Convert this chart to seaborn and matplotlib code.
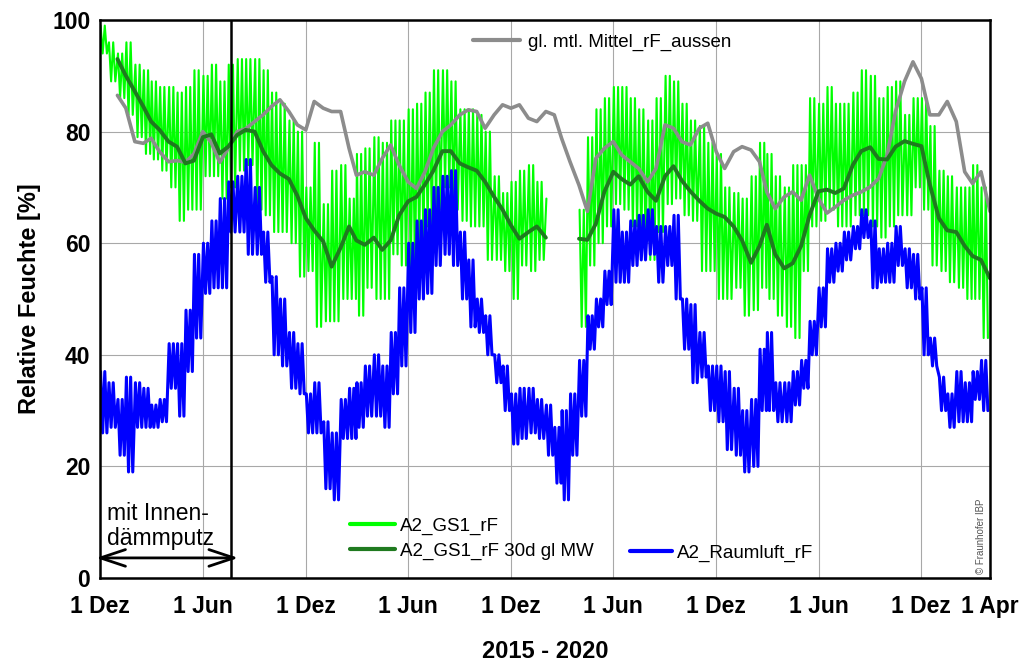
import numpy as np
import pandas as pd
import matplotlib
matplotlib.use("Agg")
import matplotlib.pyplot as plt
import seaborn as sns
from matplotlib.lines import Line2D

nan = np.nan

# ---- time grid: 1st and 16th of each month, Dec 2015 .. Apr 2020 ----
month_starts = pd.date_range("2015-12-01", "2020-03-01", freq="MS")
half_month_dates = []
for m in month_starts:
    half_month_dates += [m, m + pd.Timedelta(days=15)]
half_month_dates.append(pd.Timestamp("2020-04-01"))

# ---- smooth series, one value per half-month point ----
gray_aussen = [nan, nan, 86.5, 84.2, 78.2, 77.9, 78.8, 76.4, 74.6, 74.8,
               74.5, 76, 80, 78, 74.5, 77, 80, 80.5, 81.8, 83,
               84.5, 85.7, 83.6, 81.2, 80.3, 85.4, 84.2, 83.6, 83.6, 77,
               72.2, 72.8, 72.2, 75.2, 77.6, 74, 71, 69.8, 72.8, 77,
               80, 81.2, 83, 83.9, 83.6, 80.6, 83, 84.8, 84.2, 84.8,
               82.4, 81.8, 83.6, 83, 78.8, 74.6, 70.4, 65.7, 75.2, 77,
               78.2, 75.8, 74.6, 73.4, 71, 73.4, 81.2, 80.6, 78.2, 77.6,
               80.6, 81.5, 76.4, 73.4, 76.4, 77.3, 76.7, 74.6, 69.2, 66.2,
               68.3, 69.2, 67.7, 72.2, 68, 65.4, 66.5, 67.7, 68.6, 69.2,
               70.1, 71.6, 75.8, 83.6, 89, 92.5, 89.5, 83, 83, 85.4,
               81.8, 72.8, 70.7, 72.8, 65.7]

gs1_30d = [nan, nan, 93, 90, 87.2, 84.5, 81.8, 80.3, 78.2, 77.3,
           74.3, 74.8, 79, 79.5, 76.1, 77.3, 79.4, 80.3, 80, 76.5,
           74, 72.5, 71.5, 68.5, 64.5, 62.3, 60.3, 55.8, 59.2, 63,
           60.5, 59.7, 61, 58.8, 60.5, 65, 67.5, 68.3, 70.5, 73,
           76.5, 76.5, 74.3, 73.6, 73, 71, 68.3, 66, 63.2, 60.8,
           62, 63, 61, nan, nan, nan, 60.8, 60.6, 63.5, 69.2,
           72.8, 71.5, 70.5, 72, 69.2, 67.6, 72, 73.8, 71.2, 69.3,
           67.6, 66.2, 65.3, 64.7, 63, 60.5, 56.5, 59.5, 63.3, 58,
           55.5, 56.4, 59.5, 65, 69.3, 69.6, 69, 69.8, 74, 76.5,
           77.2, 75.1, 75, 77.3, 78.3, 77.8, 77.4, 70.5, 64.5, 62.3,
           62, 59.5, 57.7, 57, 53.7]

# ---- noisy series: upper / lower extent of the trace in each half-month ----
gs1_hi = [99, 96, 94, 96, 92, 91, 89, 88, 88, 87,
          88, 91, 90, 92, 89, 92, 93, 93, 93, 91,
          87, 85, 82, 80, 70, 78, 67, 73, 74, 68,
          76, 77, 79, 78, 82, 82, 84, 85, 87, 91,
          91, 89, 84, 84, 83, 80, 72, 69, 71, 73,
          74, 71, 68, nan, nan, nan, 66, 79, 84, 86,
          88, 88, 86, 84, 82, 86, 90, 89, 85, 82,
          81, 78, 76, 70, 69, 68, 72, 78, 76, 72,
          70, 74, 74, 86, 85, 88, 85, 85, 87, 91,
          90, 86, 88, 89, 83, 86, 86, 81, 73, 72,
          70, 70, 74, 70]
gs1_lo = [94, 89, 86, 83, 79, 76, 75, 73, 70, 64,
          66, 66, 72, 72, 68, 70, 73, 74, 66, 65,
          62, 62, 60, 54, 55, 45, 46, 46, 50, 50,
          47, 52, 50, 50, 58, 56, 54, 60, 63, 66,
          70, 66, 64, 63, 63, 57, 57, 55, 50, 56,
          55, 57, nan, nan, nan, nan, 45, 56, 60, 63,
          67, 66, 63, 60, 57, 62, 67, 68, 65, 64,
          55, 55, 50, 50, 52, 47, 48, 52, 50, 47,
          45, 43, 55, 63, 64, 66, 63, 63, 65, 65,
          63, 61, 63, 65, 65, 70, 66, 56, 55, 53,
          52, 50, 50, 43]

raum_hi = [37, 35, 32, 36, 35, 34, 31, 32, 42, 42,
           48, 58, 60, 64, 68, 71, 72, 75, 70, 62,
           54, 50, 44, 42, 33, 35, 28, 26, 32, 34,
           35, 38, 40, 38, 44, 52, 60, 64, 66, 70,
           72, 73, 62, 57, 50, 47, 40, 38, 33, 34,
           34, 32, 31, 27, 30, 33, 39, 47, 50, 55,
           66, 62, 64, 65, 66, 63, 63, 65, 50, 49,
           44, 38, 38, 37, 34, 30, 32, 41, 44, 35,
           35, 37, 39, 46, 52, 59, 60, 62, 63, 66,
           64, 59, 60, 63, 59, 58, 52, 43, 36, 33,
           37, 35, 37, 39]
raum_lo = [26, 27, 22, 19, 27, 27, 27, 28, 34, 29,
           37, 43, 51, 52, 52, 62, 62, 58, 58, 53,
           40, 38, 34, 33, 26, 26, 16, 14, 25, 25,
           27, 29, 29, 27, 33, 38, 44, 50, 51, 56,
           58, 56, 50, 45, 44, 40, 35, 30, 24, 25,
           26, 25, 22, 17, 14, 22, 29, 41, 45, 49,
           53, 53, 56, 57, 58, 53, 56, 50, 41, 35,
           36, 30, 28, 23, 22, 19, 20, 30, 30, 28,
           28, 31, 34, 40, 45, 53, 55, 57, 59, 61,
           52, 53, 53, 56, 52, 50, 40, 38, 30, 27,
           28, 28, 32, 30]

tick_dates = ["2015-12-01", "2016-06-01", "2016-12-01", "2017-06-01", "2017-12-01",
              "2018-06-01", "2018-12-01", "2019-06-01", "2019-12-01", "2020-04-01"]
tick_labels = ["1 Dez", "1 Jun", "1 Dez", "1 Jun", "1 Dez",
               "1 Jun", "1 Dez", "1 Jun", "1 Dez", "1 Apr"]
y_ticks = [0, 20, 40, 60, 80, 100]
ende_innendaemmputz = pd.Timestamp("2016-07-21")

labels = {"gray": "gl. mtl. Mittel_rF_aussen", "gs1": "A2_GS1_rF",
          "gs1_30d": "A2_GS1_rF 30d gl MW", "raum": "A2_Raumluft_rF"}
colors = {"gray": "#8c8c8c", "gs1": "#00ff00", "gs1_30d": "#1f7a1f", "raum": "#0000ff"}


def smooth_frame(vals):
    df = pd.DataFrame({"date": half_month_dates, "rf": vals})
    df["seg"] = df["rf"].isna().cumsum()
    return df.dropna()


def noisy_frame(hi, lo):
    # within each half-month the trace swings between its read upper and lower extent
    dates, vals = [], []
    for d, h, l in zip(half_month_dates[:-1], hi, lo):
        for off, v in ((1.0, h), (4.75, l), (8.5, h), (12.25, l)):
            dates.append(d + pd.Timedelta(days=off))
            vals.append(v)
    df = pd.DataFrame({"date": dates, "rf": vals})
    df["seg"] = df["rf"].isna().cumsum()
    return df.dropna()


sns.set_theme(style="white")
plt.rcParams["font.family"] = ["Liberation Sans", "DejaVu Sans"]
plt.rcParams["text.color"] = "black"
plt.rcParams["axes.labelcolor"] = "black"
plt.rcParams["xtick.color"] = "black"
plt.rcParams["ytick.color"] = "black"

fig = plt.figure(figsize=(10.36, 6.62), dpi=100)
ax = fig.add_axes([100 / 1036, 84 / 662, 890 / 1036, 558 / 662])

sns.lineplot(data=noisy_frame(gs1_hi, gs1_lo), x="date", y="rf", units="seg",
             estimator=None, color=colors["gs1"], lw=1.5, ax=ax, zorder=2)
sns.lineplot(data=smooth_frame(gray_aussen), x="date", y="rf", units="seg",
             estimator=None, color=colors["gray"], lw=2.6, ax=ax, zorder=3)
sns.lineplot(data=smooth_frame(gs1_30d), x="date", y="rf", units="seg",
             estimator=None, color=colors["gs1_30d"], lw=2.8, ax=ax, zorder=4)
sns.lineplot(data=noisy_frame(raum_hi, raum_lo), x="date", y="rf", units="seg",
             estimator=None, color=colors["raum"], lw=2.2, ax=ax, zorder=5)

ax.set_xlim(pd.Timestamp("2015-12-01"), pd.Timestamp("2020-04-01"))
ax.set_ylim(0, 100)
ax.set_xticks(pd.to_datetime(tick_dates))
ax.set_xticklabels(tick_labels, fontsize=16.5, fontweight="bold")
ax.set_yticks(y_ticks)
ax.set_yticklabels([str(v) for v in y_ticks], fontsize=16.5, fontweight="bold")
ax.tick_params(axis="x", length=0, pad=12)
ax.tick_params(axis="y", length=0, pad=7)
ax.grid(True, color="#a8a8a8", lw=0.8)
ax.set_axisbelow(True)
for s in ax.spines.values():
    s.set_linewidth(1.8)
    s.set_color("black")
    s.set_zorder(6)

ax.set_xlabel("2015 - 2020", fontsize=17, fontweight="bold", labelpad=16)
ax.set_ylabel("Relative Feuchte [%]", fontsize=17, fontweight="bold", labelpad=8)

ax.axvline(ende_innendaemmputz, color="black", lw=1.8, zorder=6)
ax.annotate("", xy=(pd.Timestamp("2015-11-24"), 3.6),
            xytext=(pd.Timestamp("2016-08-03"), 3.6),
            arrowprops=dict(arrowstyle="<->, head_length=0.45, head_width=0.15",
                            color="black", lw=2, shrinkA=0, shrinkB=0,
                            mutation_scale=40),
            annotation_clip=False, zorder=7)
ax.text(pd.Timestamp("2015-12-13"), 13.6, "mit Innen-\ndämmputz", fontsize=16.5,
        ha="left", va="top", linespacing=1.1, zorder=7)
ax.text(0.99, 0.008, "© Fraunhofer IBP", rotation=90, transform=ax.transAxes,
        ha="center", va="bottom", fontsize=7, color="#555555")

fs = 13.5
leg1 = ax.legend(handles=[Line2D([], [], color=colors["gray"], lw=3)],
                 labels=[labels["gray"]], loc="center left",
                 bbox_to_anchor=(473 / 1036, 1 - 42 / 662), bbox_transform=fig.transFigure,
                 frameon=False, fontsize=fs, handlelength=2.5, handletextpad=0.43,
                 borderpad=0, borderaxespad=0)
ax.add_artist(leg1)
leg2 = ax.legend(handles=[Line2D([], [], color=colors["gs1"], lw=3),
                          Line2D([], [], color=colors["gs1_30d"], lw=3)],
                 labels=[labels["gs1"], labels["gs1_30d"]], loc="center left",
                 bbox_to_anchor=(350 / 1036, 1 - 538.5 / 662), bbox_transform=fig.transFigure,
                 frameon=False, fontsize=fs, handlelength=2.4, handletextpad=0.27,
                 labelspacing=0.4, borderpad=0, borderaxespad=0)
ax.add_artist(leg2)
leg3 = ax.legend(handles=[Line2D([], [], color=colors["raum"], lw=3)],
                 labels=[labels["raum"]], loc="center left",
                 bbox_to_anchor=(630 / 1036, 1 - 553 / 662), bbox_transform=fig.transFigure,
                 frameon=False, fontsize=fs, handlelength=2.24, handletextpad=0.27,
                 borderpad=0, borderaxespad=0)

fig.savefig("out.png", dpi=100)
